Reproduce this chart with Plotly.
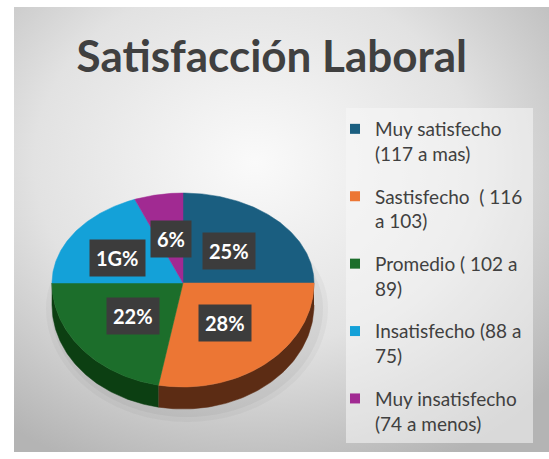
import base64
import numpy as np
import plotly.graph_objects as go

# ---- data ----
categories = [
    "Muy satisfecho<br>(117 a mas)",
    "Sastisfecho  ( 116<br>a 103)",
    "Promedio ( 102 a<br>89)",
    "Insatisfecho (88 a<br>75)",
    "Muy insatisfecho<br>(74 a menos)",
]
values = [25, 28, 22, 19, 6]
label_text = ["25%", "28%", "22%", "1G%", "6%"]

# ---- style ----
top_colors = ["#1A5E80", "#EC7634", "#1C6E2B", "#14A1D8", "#A12A92"]
side_colors = ["#0E3A50", "#5C2C14", "#0C3F12", "#0B6A90", "#60185A"]
W, H = 549, 459
CX, CY = 183, 283          # pie centre in pixels
RX, RY_TOP, RY_BOT = 131, 90, 104
DEPTH = 22
LABEL_R = [0.5, 0.5, 0.5, 0.6, 0.5]


def pt(theta):
    t = np.radians(theta)
    c = np.cos(t)
    ry = np.where(c >= 0, RY_TOP, RY_BOT)
    return RX * np.sin(t), ry * c


fig = go.Figure()

total = sum(values)
angles = np.concatenate([[0], np.cumsum(values) / total * 360])

# soft shadow
th = np.linspace(0, 360, 200)
sx, sy = pt(th)
for k, op in [(10, 0.03), (5, 0.04)]:
    fig.add_trace(go.Scatter(x=sx * (1 + k / RX) + 4, y=sy * (1 + k / RY_BOT) - DEPTH - 3,
                             fill="toself", mode="none", fillcolor=f"rgba(0,0,0,{op})",
                             showlegend=False, hoverinfo="skip"))

# side walls
for i in range(len(values)):
    a, b = angles[i], angles[i + 1]
    s, e = max(a, 90), min(b, 270)
    if s < e:
        t = np.linspace(s, e, 80)
        x, y = pt(t)
        px = np.concatenate([x, x[::-1]])
        py = np.concatenate([y, (y - DEPTH)[::-1]])
        fig.add_trace(go.Scatter(x=px, y=py, fill="toself", mode="lines",
                                 line=dict(width=0.5, color=side_colors[i]),
                                 fillcolor=side_colors[i], showlegend=False, hoverinfo="skip"))

# top faces
for i in range(len(values)):
    a, b = angles[i], angles[i + 1]
    t = np.linspace(a, b, 120)
    x, y = pt(t)
    px = np.concatenate([[0], x, [0]])
    py = np.concatenate([[0], y, [0]])
    fig.add_trace(go.Scatter(x=px, y=py, fill="toself", mode="lines",
                             line=dict(width=0.5, color=top_colors[i]),
                             fillcolor=top_colors[i], showlegend=False,
                             name=categories[i].replace("<br>", " "),
                             hoverinfo="name"))

# labels
for i in range(len(values)):
    mid = (angles[i] + angles[i + 1]) / 2
    lx, ly = pt(mid)
    fig.add_annotation(x=float(lx * LABEL_R[i]), y=float(ly * 0.5), text=f"<b>{label_text[i]}</b>",
                       showarrow=False, font=dict(family="Lato", size=20, color="white"),
                       bgcolor="#3C3C3C", borderpad=6)

# legend entries
for i in range(len(values)):
    fig.add_trace(go.Scatter(x=[None], y=[None], mode="markers", name=categories[i],
                             legendgroup=str(i),
                             marker=dict(symbol="square", size=10, color=top_colors[i])))

svg = """<svg xmlns='http://www.w3.org/2000/svg' width='535' height='445'>
<defs><radialGradient id='g' cx='0.45' cy='0.35' r='0.75'>
<stop offset='0' stop-color='#fafafa'/><stop offset='0.55' stop-color='#e2e2e2'/>
<stop offset='1' stop-color='#b4b4b4'/></radialGradient></defs>
<rect width='535' height='445' fill='url(#g)'/></svg>"""
src = "data:image/svg+xml;base64," + base64.b64encode(svg.encode()).decode()

fig.update_layout(
    width=W, height=H, autosize=False,
    margin=dict(l=0, r=0, t=0, b=0),
    paper_bgcolor="white", plot_bgcolor="rgba(0,0,0,0)",
    images=[dict(source=src, xref="paper", yref="paper", x=14 / W, y=1 - 7 / H,
                 sizex=(W - 14) / W, sizey=(452 - 7) / H, sizing="stretch",
                 xanchor="left", yanchor="top", layer="below")],
    shapes=[dict(type="rect", xref="paper", yref="paper", x0=346 / W, x1=533 / W,
                 y0=1 - 443 / H, y1=1 - 108 / H, fillcolor="rgba(248,248,248,0.55)",
                 line=dict(width=0), layer="below")],
    title=dict(text="<b>Satisfacción Laboral</b>", x=0.495, xanchor="center",
               y=1 - 57 / H, yanchor="middle",
               font=dict(family="Lato", size=44, color="#404040")),
    xaxis=dict(range=[-CX, W - CX], visible=False, fixedrange=True),
    yaxis=dict(range=[-(H - CY), CY], visible=False, fixedrange=True),
    legend=dict(x=335 / W, y=1 - 110 / H, xanchor="left", yanchor="top",
                bgcolor="rgba(0,0,0,0)", font=dict(family="Lato", size=19, color="#404040"),
                tracegroupgap=15, valign="top"),
    showlegend=True,
)

fig.write_html("out.html", config={"displayModeBar": False},
               post_script="document.body.style.margin='0';")
